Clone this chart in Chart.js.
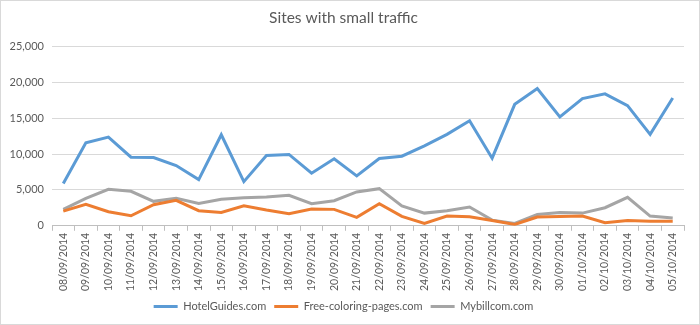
<!DOCTYPE html>
<html>
<head>
<meta charset="utf-8">
<script src="https://cdn.jsdelivr.net/npm/chart.js@4/dist/chart.umd.min.js"></script>
<style>
  html, body { margin: 0; padding: 0; background: #fff; }
  #wrap { width: 700px; height: 325px; box-sizing: border-box; border: 1px solid #d9d9d9; position: relative; }
  canvas { display: block; }
</style>
</head>
<body>
<div id="wrap"><canvas id="trafficChart"></canvas></div>
<script>
const dates = ['08/09/2014','09/09/2014','10/09/2014','11/09/2014','12/09/2014','13/09/2014','14/09/2014',
  '15/09/2014','16/09/2014','17/09/2014','18/09/2014','19/09/2014','20/09/2014','21/09/2014',
  '22/09/2014','23/09/2014','24/09/2014','25/09/2014','26/09/2014','27/09/2014','28/09/2014',
  '29/09/2014','30/09/2014','01/10/2014','02/10/2014','03/10/2014','04/10/2014','05/10/2014'];

const hotelGuides = [5900, 11580, 12380, 9570, 9530, 8400, 6440, 12700, 6160, 9800, 9950, 7330, 9340, 6960,
  9390, 9710, 11160, 12750, 14660, 9430, 16950, 19150, 15180, 17750, 18400, 16770, 12750, 17840];
const freeColoring = [2050, 2990, 1960, 1400, 2940, 3550, 2100, 1870, 2800, 2200, 1680, 2330, 2290, 1170,
  3080, 1310, 330, 1350, 1260, 750, 190, 1210, 1310, 1350, 420, 750, 650, 650];
const mybillcom = [2300, 3830, 5090, 4810, 3410, 3830, 3130, 3690, 3920, 4020, 4250, 3080, 3500, 4720,
  5180, 2760, 1770, 2100, 2620, 790, 330, 1590, 1870, 1770, 2520, 3970, 1350, 1070];

const seriesNames = ['HotelGuides.com', 'Free-coloring-pages.com', 'Mybillcom.com'];
const seriesColors = ['#5b9bd5', '#ed7d31', '#a5a5a5'];
const yTicks = { max: 25000, step: 5000 };

const textFont = 'Lato, "Liberation Sans", sans-serif';

function makeSet(i, values) {
  return {
    label: seriesNames[i],
    data: values,
    borderColor: seriesColors[i],
    backgroundColor: seriesColors[i],
    borderWidth: 3,
    pointRadius: 0,
    tension: 0,
    fill: false
  };
}

const ctx = document.getElementById('trafficChart').getContext('2d');
const trafficChart = new Chart(ctx, {
  type: 'line',
  data: {
    labels: dates,
    datasets: [makeSet(0, hotelGuides), makeSet(1, freeColoring), makeSet(2, mybillcom)]
  },
  options: {
    responsive: true,
    maintainAspectRatio: false,
    animation: false,
    layout: { padding: { left: 2, right: 15, top: 3, bottom: 2 } },
    plugins: {
      title: {
        display: true,
        text: 'Sites with small traffic',
        color: '#595959',
        font: { family: textFont, size: 15.5, weight: 'normal' },
        padding: { top: 5, bottom: 19 }
      },
      legend: {
        position: 'bottom',
        labels: {
          usePointStyle: true,
          pointStyle: 'line',
          pointStyleWidth: 24,
          color: '#595959',
          font: { family: textFont, size: 11 },
          padding: 8,
          boxHeight: 3
        }
      },
      tooltip: { enabled: false }
    },
    scales: {
      x: {
        offset: true,
        grid: {
          offset: true,
          drawOnChartArea: false,
          drawTicks: true,
          tickLength: 5,
          color: '#bfbfbf'
        },
        border: { display: true, color: '#bfbfbf' },
        ticks: {
          autoSkip: false,
          minRotation: 90,
          maxRotation: 90,
          color: '#595959',
          font: { family: textFont, size: 10.5 },
          padding: 2
        }
      },
      y: {
        min: 0,
        max: yTicks.max,
        afterFit: (scale) => { scale.width = 49; },
        ticks: {
          stepSize: yTicks.step,
          color: '#595959',
          font: { family: textFont, size: 11 },
          padding: 8
        },
        grid: { color: '#d9d9d9', drawTicks: false },
        border: { display: false }
      }
    }
  }
});
</script>
</body>
</html>
